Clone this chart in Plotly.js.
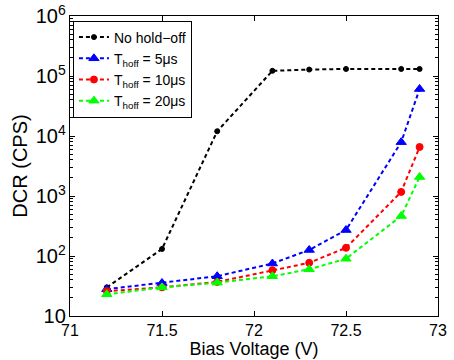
<!DOCTYPE html>
<html><head><meta charset="utf-8">
<script src="https://cdn.plot.ly/plotly-3.0.1.min.js"></script>
<style>html,body{margin:0;padding:0;background:#fff}#c{width:454px;height:360px}</style>
</head><body><div id="c"></div>
<script>
const voltage = [71.2, 71.5, 71.8, 72.1, 72.3, 72.5, 72.8, 72.9];
const noHoldoff = [30, 131, 12000, 122000, 128000, 131000, 131000, 131000];
const hoff5 = [28, 35.5, 46, 75, 126, 271, 7900, 60700];
const hoff10 = [26, 30, 37, 58, 77, 137, 1170, 6560];
const hoff20 = [23, 30, 36, 46, 60, 90, 464, 2070];
const seriesNames = ["No hold\u2212off", "T<sub>hoff</sub> = 5\u03bcs", "T<sub>hoff</sub> = 10\u03bcs", "T<sub>hoff</sub> = 20\u03bcs"];
const xTicks = [71, 71.5, 72, 72.5, 73];

const dash = "4px,3px";
function tr(y, name, color, sym, size) {
  return {x: voltage, y: y, name: name, type: 'scatter', mode: 'lines+markers',
    line: {color: color, width: 2, dash: dash},
    marker: {color: color, symbol: sym, size: size, line: {color: color, width: 1}}};
}
const data = [
  tr(noHoldoff, seriesNames[0], '#000000', 'circle', 5),
  tr(hoff5, seriesNames[1], '#0000ff', 'triangle-up', 9),
  tr(hoff10, seriesNames[2], '#ff0000', 'circle', 7),
  tr(hoff20, seriesNames[3], '#00ff00', 'triangle-up', 9)
];
const layout = {
  width: 454, height: 360,
  margin: {l: 70, r: 16, t: 16, b: 44},
  paper_bgcolor: '#fff', plot_bgcolor: '#fff',
  font: {family: 'Liberation Sans, Arial, sans-serif', size: 16, color: '#000'},
  showlegend: true,
  legend: {x: 0.008, y: 0.985, xanchor: 'left', yanchor: 'top', bgcolor: '#fff',
    bordercolor: '#000', borderwidth: 1, itemwidth: 30, tracegroupgap: 0,
    font: {size: 14}},
  xaxis: {range: [71, 73], tickvals: xTicks, ticktext: xTicks.map(String),
    ticks: 'inside', ticklen: 5, tickcolor: '#000', showline: true, linecolor: '#000',
    linewidth: 1, mirror: 'ticks', showgrid: false, zeroline: false,
    tickfont: {size: 16},
    title: {text: 'Bias Voltage (V)', standoff: 0, font: {size: 18}}},
  yaxis: {type: 'log', range: [1, 6], dtick: 1, exponentformat: 'power',
    ticks: 'inside', ticklen: 5, tickcolor: '#000', showline: true, linecolor: '#000',
    linewidth: 1, mirror: 'ticks', showgrid: false, zeroline: false,
    tickfont: {size: 16},
    minor: {ticks: 'inside', ticklen: 3, dtick: 'D1', tickcolor: '#000', showgrid: false},
    title: {text: 'DCR (CPS)', standoff: 2, font: {size: 20}}}
};
Plotly.newPlot('c', data, layout, {displayModeBar: false, staticPlot: true});
</script></body></html>
